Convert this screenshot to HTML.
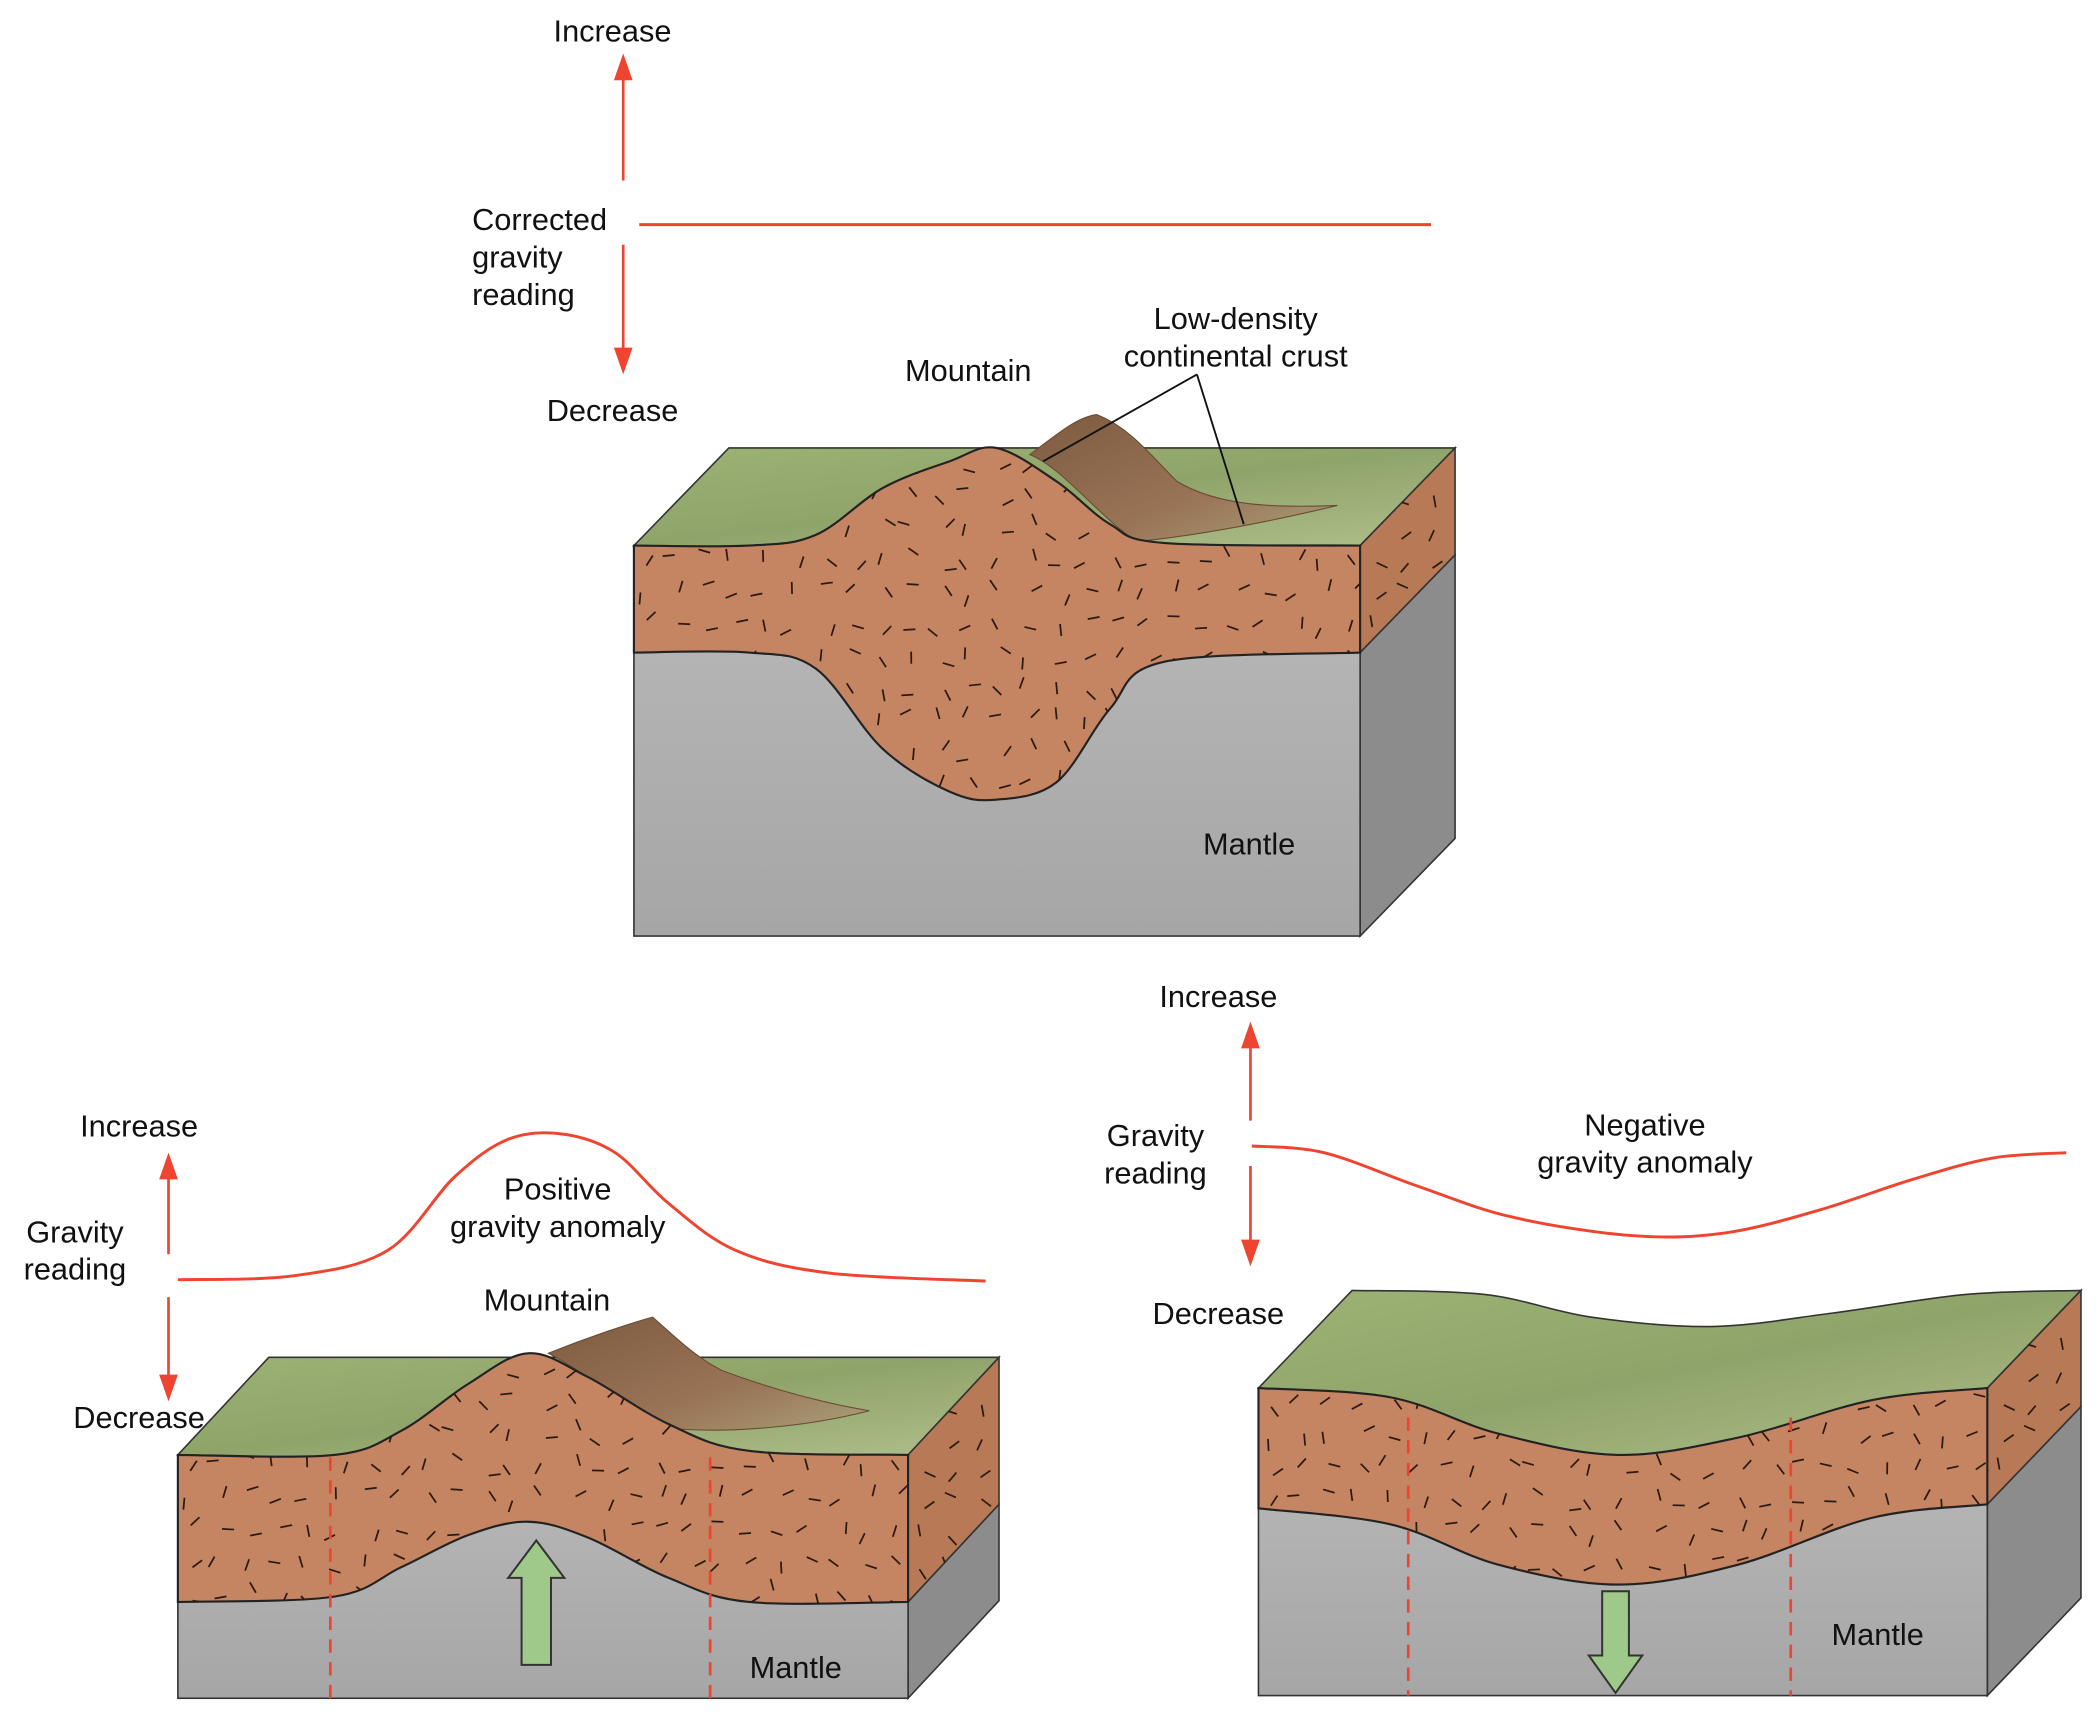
<!DOCTYPE html>
<html><head><meta charset="utf-8">
<style>
html,body{margin:0;padding:0;background:#fff;}
svg{display:block;}
text{font-family:"Liberation Sans",Arial,sans-serif;font-size:23px;fill:#111;}
</style></head>
<body>
<svg id="fig" width="2097" height="1725" viewBox="0 0 1568 1290" preserveAspectRatio="none" xmlns="http://www.w3.org/2000/svg">
<defs>
<linearGradient id="grass" x1="0" y1="0" x2="1" y2="1">
<stop offset="0" stop-color="#9db274"/><stop offset="0.5" stop-color="#8fa46a"/><stop offset="1" stop-color="#b0bf8c"/></linearGradient>
<linearGradient id="mantleFront" x1="0" y1="0" x2="0" y2="1">
<stop offset="0" stop-color="#b4b4b4"/><stop offset="1" stop-color="#a6a6a6"/></linearGradient>
<linearGradient id="rock" x1="0" y1="0" x2="1" y2="1">
<stop offset="0" stop-color="#7d5a40"/><stop offset="0.6" stop-color="#9a7456"/><stop offset="1" stop-color="#a8a07a"/></linearGradient>
</defs>
<g id="layer"></g>
</svg>
<script>
// ---- data arrays ----
const topCurveX = [478, 1070];
const topCurveY = [168, 168];
const posCurveX = [133, 220, 290, 340, 380, 420, 460, 500, 550, 620, 737];
const posCurveY = [957, 954, 935, 880, 852, 848, 862, 900, 935, 952, 958];
const negCurveX = [936, 990, 1060, 1130, 1220, 1290, 1360, 1430, 1490, 1545];
const negCurveY = [857, 862, 887, 910, 924, 922, 905, 882, 866, 862];

const NS = "http://www.w3.org/2000/svg";
const layer = document.getElementById('layer');
function mk(tag, attrs, parent) {
  const e = document.createElementNS(NS, tag);
  for (const k in attrs) e.setAttribute(k, attrs[k]);
  (parent || layer).appendChild(e);
  return e;
}
function pathFrom(xs, ys, noMove) {
  let d = (noMove ? " L" : "M") + xs[0] + "," + ys[0];
  const n = xs.length;
  for (let i = 0; i < n - 1; i++) {
    const x0 = xs[Math.max(0, i-1)], y0 = ys[Math.max(0, i-1)];
    const x1 = xs[i], y1 = ys[i], x2 = xs[i+1], y2 = ys[i+1];
    const x3 = xs[Math.min(n-1, i+2)], y3 = ys[Math.min(n-1, i+2)];
    const c1x = x1 + (x2 - x0) / 6, c1y = y1 + (y2 - y0) / 6;
    const c2x = x2 - (x3 - x1) / 6, c2y = y2 - (y3 - y1) / 6;
    d += " C" + c1x.toFixed(1) + "," + c1y.toFixed(1) + " " + c2x.toFixed(1) + "," + c2y.toFixed(1) + " " + x2 + "," + y2;
  }
  return d;
}
function label(x, y, str, name, anchor) {
  const t = mk('text', {x: x, y: y, 'text-anchor': anchor || 'middle'});
  t.textContent = str;
  
  
  return t;
}
function redArrow(x, y1, y2, name) {
  const g = mk('g', {});
  
  
  const dir = y2 < y1 ? -1 : 1;
  mk('line', {x1: x, y1: y1, x2: x, y2: y2 - dir * 14, stroke: '#ee4430', 'stroke-width': 2}, g);
  mk('polygon', {points: (x-7)+","+(y2-dir*20)+" "+(x+7)+","+(y2-dir*20)+" "+x+","+y2, fill: '#ee4430'}, g);
}
function speckle(g, x0, y0, x1, y1, clipId, seed) {
  let s = seed || 7;
  function rnd() { s = (s * 9301 + 49297) % 233280; return s / 233280; }
  const gg = mk('g', {'clip-path': 'url(#' + clipId + ')'}, g);
  for (let y = y0 + 12; y < y1; y += 24) {
    for (let x = x0 + 10; x < x1; x += 22) {
      const px = x + rnd()*14 - 7, py = y + rnd()*14 - 7, a = rnd()*Math.PI, L = 4.5;
      mk('line', {x1: px-L*Math.cos(a), y1: py-L*Math.sin(a), x2: px+L*Math.cos(a), y2: py+L*Math.sin(a), stroke: '#2a1a10', 'stroke-width': 1.3}, gg);
    }
  }
}

function block(o) {
  const g = mk('g', {});
  
  
  const L = o.left, R = o.right, dx = o.dx, dy = o.dy, B = o.bottom;
  const n = o.crustX.length;
  const lt = o.crustTopY[0], rt = o.crustTopY[n-1], rb = o.crustBotY[n-1];
  // top surface: back edge then front profile
  const bx = o.backX || [L+dx, R+dx];
  const by = o.backY || [lt-dy, rt-dy];
  let topD = pathFrom(bx, by);
  topD += " L" + R + "," + rt;
  topD += pathFrom(o.crustX.slice().reverse(), o.crustTopY.slice().reverse(), true);
  topD += " Z";
  const top = mk('path', {d: topD, fill: 'url(#grass)', stroke: '#333', 'stroke-width': 1.2}, g);
  
  
  if (o.ridge) {
    const r = mk('path', {d: o.ridge, fill: 'url(#rock)', stroke: '#6a4a32', 'stroke-width': 0.8}, g);
    
    
  }
  const sideD = "M"+R+","+rt+" L"+(R+dx)+","+(rt-dy)+" L"+(R+dx)+","+(rb-dy)+" L"+R+","+rb+" Z";
  const sideCrust = mk('path', {d: sideD, fill: '#b87a56', stroke: '#333', 'stroke-width': 1.2}, g);
  
  
  const sideMantle = mk('path', {d: "M"+R+","+rb+" L"+(R+dx)+","+(rb-dy)+" L"+(R+dx)+","+(B-dy)+" L"+R+","+B+" Z", fill: '#8c8c8c', stroke: '#333', 'stroke-width': 1.2}, g);
  
  
  const mtop = Math.min.apply(null, o.crustBotY) - 2;
  const fm = mk('rect', {x: L, y: mtop, width: R-L, height: B - mtop, fill: 'url(#mantleFront)', stroke: '#333', 'stroke-width': 1.2}, g);
  
  
  const crustD = pathFrom(o.crustX, o.crustTopY) + pathFrom(o.crustX.slice().reverse(), o.crustBotY.slice().reverse(), true) + " Z";
  const cid = o.name + '-clip';
  const cp = mk('clipPath', {id: cid}, g);
  mk('path', {d: crustD}, cp);
  const cr = mk('path', {d: crustD, fill: '#c58462', stroke: '#222', 'stroke-width': 1.6}, g);
  
  
  speckle(g, L, Math.min.apply(null, o.crustTopY), R, Math.max.apply(null, o.crustBotY), cid, 11);
  const sid = o.name + '-sclip';
  const sp = mk('clipPath', {id: sid}, g);
  mk('path', {d: sideD}, sp);
  speckle(g, R, rt - dy, R + dx, rb, sid, 5);
  return g;
}

block({name: 'top-block', left: 474, right: 1017, dx: 71, dy: 73, bottom: 700,
  crustX: [474, 560, 610, 660, 710, 745, 790, 830, 870, 1017],
  crustTopY: [408, 408, 400, 365, 345, 335, 360, 392, 406, 408],
  crustBotY: [488, 488, 500, 560, 592, 598, 585, 530, 495, 488],
  ridge: "M770,340 C790,325 805,312 820,310 C845,320 860,340 880,360 C910,378 950,380 1000,378 C950,390 900,400 850,405 C820,385 795,350 770,340 Z"});

block({name: 'left-block', left: 133, right: 679, dx: 68, dy: 73, bottom: 1270,
  crustX: [133, 250, 300, 350, 395, 440, 500, 560, 679],
  crustTopY: [1088, 1088, 1070, 1035, 1012, 1030, 1065, 1085, 1088],
  crustBotY: [1198, 1194, 1172, 1148, 1138, 1150, 1180, 1198, 1198],
  ridge: "M410,1012 C440,1000 470,990 488,985 C505,1000 520,1015 540,1025 C580,1040 620,1050 650,1055 C600,1068 540,1072 500,1068 C460,1045 430,1022 410,1012 Z"});

block({name: 'right-block', left: 941, right: 1486, dx: 70, dy: 73, bottom: 1268,
  crustX: [941, 1040, 1120, 1210, 1300, 1400, 1486],
  crustTopY: [1038, 1045, 1072, 1088, 1075, 1047, 1038],
  crustBotY: [1128, 1140, 1170, 1185, 1170, 1135, 1125],
  backX: [1011, 1110, 1190, 1280, 1370, 1470, 1556],
  backY: [965, 968, 985, 992, 982, 968, 965]});

[[247,1090,1270],[531,1090,1270],[1053,1060,1268],[1339,1060,1268]].forEach((d, i) => {
  const l = mk('line', {x1: d[0], y1: d[1], x2: d[0], y2: d[2], stroke: '#ee4430', 'stroke-width': 2, 'stroke-dasharray': '10,7'});
  
  
});

const ga = mk('polygon', {points: "390,1245 412,1245 412,1180 422,1180 401,1152 380,1180 390,1180", fill: '#9fc98a', stroke: '#333', 'stroke-width': 1.5});


const gb = mk('polygon', {points: "1198,1190 1218,1190 1218,1238 1228,1238 1208,1266 1188,1238 1198,1238", fill: '#9fc98a', stroke: '#333', 'stroke-width': 1.5});



const c1 = mk('path', {d: "M" + topCurveX[0] + "," + topCurveY[0] + " L" + topCurveX[1] + "," + topCurveY[1], stroke: '#ee4430', 'stroke-width': 2.2, fill: 'none'});


const c2 = mk('path', {d: pathFrom(posCurveX, posCurveY), stroke: '#ee4430', 'stroke-width': 2.2, fill: 'none'});


const c3 = mk('path', {d: pathFrom(negCurveX, negCurveY), stroke: '#ee4430', 'stroke-width': 2.2, fill: 'none'});



redArrow(466, 135, 40, 'top-increase-arrow');
redArrow(466, 183, 280, 'top-decrease-arrow');
redArrow(126, 938, 862, 'left-increase-arrow');
redArrow(126, 970, 1048, 'left-decrease-arrow');
redArrow(935, 838, 764, 'right-increase-arrow');
redArrow(935, 872, 947, 'right-decrease-arrow');

const ll = mk('path', {d: "M895,280 L780,345 M895,280 L930,392", stroke: '#111', 'stroke-width': 1.4, fill: 'none'});



label(458, 31, 'Increase', 'top-increase-label');
label(353, 172, 'Corrected', 'top-axis-title-1', 'start');
label(353, 200, 'gravity', 'top-axis-title-2', 'start');
label(353, 228, 'reading', 'top-axis-title-3', 'start');
label(458, 315, 'Decrease', 'top-decrease-label');
label(724, 285, 'Mountain', 'top-mountain-label');
label(924, 246, 'Low-density', 'crust-label-1');
label(924, 274, 'continental crust', 'crust-label-2');
label(934, 639, 'Mantle', 'top-mantle-label');
label(104, 850, 'Increase', 'left-increase-label');
label(56, 929, 'Gravity', 'left-axis-title-1');
label(56, 957, 'reading', 'left-axis-title-2');
label(104, 1068, 'Decrease', 'left-decrease-label');
label(417, 897, 'Positive', 'positive-anomaly-label-1');
label(417, 925, 'gravity anomaly', 'positive-anomaly-label-2');
label(409, 980, 'Mountain', 'left-mountain-label');
label(595, 1255, 'Mantle', 'left-mantle-label');
label(911, 753, 'Increase', 'right-increase-label');
label(864, 857, 'Gravity', 'right-axis-title-1');
label(864, 885, 'reading', 'right-axis-title-2');
label(911, 990, 'Decrease', 'right-decrease-label');
label(1230, 849, 'Negative', 'negative-anomaly-label-1');
label(1230, 877, 'gravity anomaly', 'negative-anomaly-label-2');
label(1404, 1230, 'Mantle', 'right-mantle-label');
</script>
</body></html>
